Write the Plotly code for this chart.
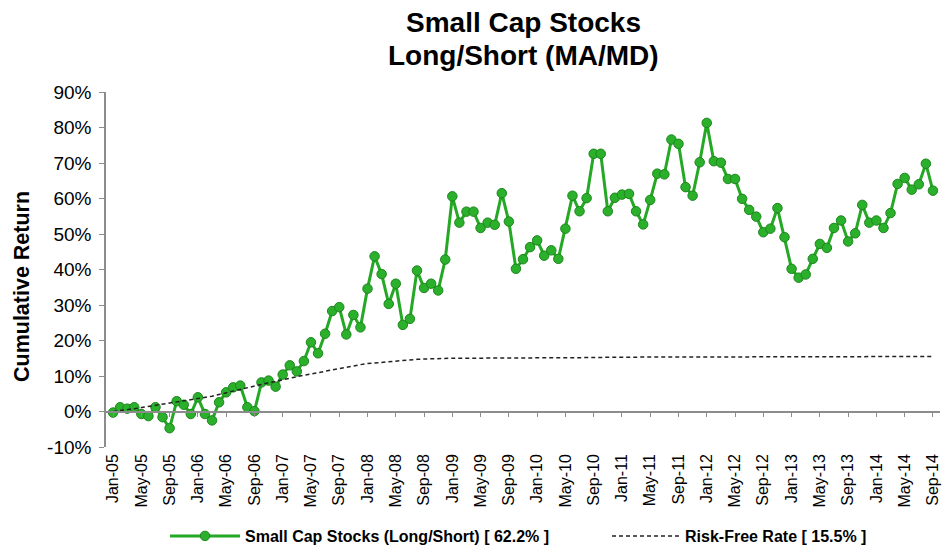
import pandas as pd
import plotly.graph_objects as go

months = [d.strftime("%b-%y") for d in pd.date_range("2005-01-01", "2014-09-01", freq="MS")]

small_cap = [
    -0.3, 1.2, 0.8, 1.2, -0.7, -1.3, 1.2, -1.6, -4.7, 2.9, 1.9, -0.7,
    4.0, -0.7, -2.5, 2.6, 5.4, 6.8, 7.3, 1.2, 0.1, 8.2, 8.7, 7.0,
    10.4, 13.0, 11.3, 14.2, 19.5, 16.4, 21.9, 28.3, 29.4, 21.7, 27.2, 23.7,
    34.6, 43.7, 38.7, 30.3, 36.0, 24.4, 26.1, 39.7, 34.8, 36.0, 34.1, 42.8,
    60.6, 53.2, 56.3, 56.3, 51.7, 53.2, 52.6, 61.5, 53.5, 40.2, 42.9, 46.3,
    48.2, 43.9, 45.4, 43.0, 51.5, 60.8, 56.4, 60.1, 72.6, 72.6, 56.4, 60.2,
    61.1, 61.3, 56.4, 52.7, 59.6, 67.0, 66.8, 76.6, 75.4, 63.2, 60.8, 70.2,
    81.3, 70.5, 70.1, 65.5, 65.5, 59.9, 56.8, 54.9, 50.5, 51.5, 57.3, 49.1,
    40.2, 37.7, 38.6, 43.0, 47.2, 46.1, 51.7, 53.8, 47.9, 50.2, 58.2, 53.2,
    53.8, 51.7, 55.9, 64.1, 65.8, 62.5, 64.0, 69.8, 62.2,
]

risk_free = [
    0.0, 0.2, 0.5, 0.8, 1.1, 1.4, 1.7, 2.0, 2.3, 2.6, 2.9, 3.2,
    3.5, 3.9, 4.3, 4.8, 5.3, 5.8, 6.3, 6.8, 7.3, 7.7, 8.1, 8.5,
    9.0, 9.4, 9.8, 10.2, 10.6, 11.0, 11.4, 11.8, 12.2, 12.6, 12.9, 13.2,
    13.5, 13.7, 13.9, 14.1, 14.3, 14.5, 14.6, 14.7, 14.8, 14.9, 14.9, 15.0,
    15.0, 15.0, 15.0, 15.0, 15.1, 15.1, 15.1, 15.1, 15.1, 15.1, 15.1, 15.1,
    15.2, 15.2, 15.2, 15.2, 15.2, 15.2, 15.2, 15.2, 15.2, 15.2, 15.3, 15.3,
    15.3, 15.3, 15.3, 15.3, 15.3, 15.3, 15.3, 15.3, 15.3, 15.3, 15.4, 15.4,
    15.4, 15.4, 15.4, 15.4, 15.4, 15.4, 15.4, 15.4, 15.4, 15.4, 15.4, 15.4,
    15.4, 15.4, 15.4, 15.5, 15.5, 15.5, 15.5, 15.5, 15.5, 15.5, 15.5, 15.5,
    15.5, 15.5, 15.5, 15.5, 15.5, 15.5, 15.5, 15.5, 15.5,
]

tick_labels = months[::4]
y_ticks = list(range(-10, 100, 10))
y_tick_text = [f"{v}%" for v in y_ticks]

FONT = "Arial, Liberation Sans, sans-serif"
AXIS_GREY = "#8c8c8c"

fig = go.Figure()
fig.add_trace(go.Scatter(
    x=months, y=small_cap, mode="lines+markers",
    name=f"<b>Small Cap Stocks (Long/Short) [ {small_cap[-1]:.1f}% ]</b>",
    line=dict(color="#25a825", width=3),
    marker=dict(size=9.5, color="#2bb02b", line=dict(color="#1d861d", width=1)),
    legend="legend",
))
fig.add_trace(go.Scatter(
    x=months, y=risk_free, mode="lines", xaxis="x2",
    name=f"<b>Risk-Free Rate [ {risk_free[-1]:.1f}% ]</b>",
    line=dict(color="#222222", width=1.5, dash="4px,3px"),
    legend="legend2",
))

cat_range = [-1, len(months)]
legend_common = dict(
    orientation="h", xref="container", xanchor="left",
    yref="container", y=0.0222, yanchor="middle",
    font=dict(size=16, family=FONT), bgcolor="rgba(0,0,0,0)",
)
fig.update_layout(
    width=943, height=540,
    paper_bgcolor="white", plot_bgcolor="white",
    margin=dict(l=98, r=11, t=84, b=101),
    font=dict(family=FONT, color="black"),
    xaxis=dict(
        type="category", categoryorder="array", categoryarray=months,
        range=cat_range, tickmode="array", tickvals=tick_labels, ticktext=tick_labels,
        tickangle=-90, tickfont=dict(size=16), showline=False, ticks="",
        showgrid=False, zeroline=False, ticklabelstandoff=3,
    ),
    xaxis2=dict(
        type="category", categoryorder="array", categoryarray=months,
        overlaying="x", anchor="free", position=0.1, range=cat_range,
        tickmode="array", tickvals=tick_labels, showticklabels=False,
        ticks="outside", ticklen=5, tickcolor=AXIS_GREY,
        showline=True, linecolor=AXIS_GREY, linewidth=1.5, showgrid=False,
    ),
    yaxis=dict(
        range=[-10, 90], tickmode="array", tickvals=y_ticks, ticktext=y_tick_text,
        tickfont=dict(size=19), showline=True, linecolor=AXIS_GREY, linewidth=1.5,
        ticks="outside", ticklen=5, tickcolor=AXIS_GREY, showgrid=False, zeroline=False,
        ticklabelstandoff=4,
    ),
    legend=dict(legend_common, x=157 / 943, itemwidth=70),
    legend2=dict(legend_common, x=599 / 943, itemwidth=68),
    annotations=[
        dict(text="<b>Small Cap Stocks</b>",
             xref="paper", yref="paper", x=0.5, y=1.197,
             xanchor="center", yanchor="middle", showarrow=False,
             font=dict(size=28, family=FONT)),
        dict(text="<b>Long/Short (MA/MD)</b>",
             xref="paper", yref="paper", x=0.5, y=1.104,
             xanchor="center", yanchor="middle", showarrow=False,
             font=dict(size=28, family=FONT)),
        dict(text="<b>Cumulative Return</b>", textangle=-90,
             xref="paper", yref="paper", x=-0.1007, y=0.4507,
             xanchor="center", yanchor="middle", showarrow=False,
             font=dict(size=21.5, family=FONT)),
    ],
    showlegend=True,
)

fig.write_html("out.html")
